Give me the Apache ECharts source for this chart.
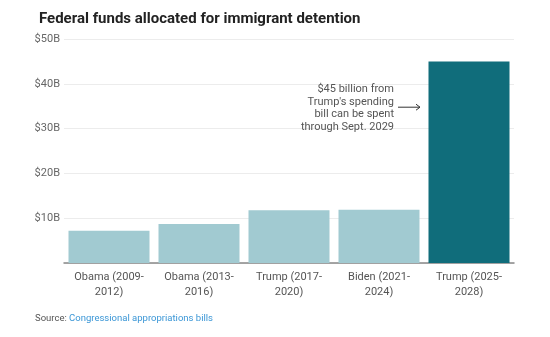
<!DOCTYPE html>
<html><head><meta charset="utf-8">
<script src="https://cdn.jsdelivr.net/npm/echarts@6/dist/echarts.min.js"></script>
<style>html,body{margin:0;padding:0;background:#fff}#c{width:550px;height:337px}</style>
</head><body><div id="c"></div>
<script>
const categories = ['Obama (2009-\n2012)', 'Obama (2013-\n2016)', 'Trump (2017-\n2020)', 'Biden (2021-\n2024)', 'Trump (2025-\n2028)'];
const values = [7.2, 8.7, 11.8, 11.9, 45];
const barColors = ['#a1cad1', '#a1cad1', '#a1cad1', '#a1cad1', '#106d7b'];
const yTicks = [0, 10, 20, 30, 40, 50];
const annotationLines = ['$45 billion from', "Trump's spending", 'bill can be spent', 'through Sept. 2029'];

const chart = echarts.init(document.getElementById('c'));
const font = 'Roboto, "Noto Sans", sans-serif';
chart.setOption({
  animation: false,
  textStyle: { fontFamily: font },
  grid: { left: 64, right: 36, top: 39, bottom: 74 },
  title: {
    text: 'Federal funds allocated for immigrant detention',
    left: 34, top: 7,
    textStyle: { fontSize: 15, fontWeight: 'bold', color: '#222', fontFamily: font }
  },
  xAxis: {
    type: 'category', data: categories,
    axisLine: { lineStyle: { color: '#888', width: 1.5 } },
    axisTick: { show: false },
    axisLabel: { color: '#555', fontSize: 11, lineHeight: 15, margin: 7, interval: 0 }
  },
  yAxis: {
    type: 'value', min: yTicks[0], max: yTicks[yTicks.length - 1], interval: 10,
    axisLine: { show: false }, axisTick: { show: false },
    splitLine: { lineStyle: { color: '#ececec', width: 1 } },
    axisLabel: {
      color: '#666', fontSize: 11, margin: 4,
      formatter: v => v === 0 ? '' : '$' + v + 'B'
    }
  },
  series: [{
    type: 'bar',
    barCategoryGap: '10%',
    data: values.map((v, i) => ({ value: v, itemStyle: { color: barColors[i] } })),
    silent: true
  }]
});

// annotation anchored to data coordinates
const anchor = chart.convertToPixel({ xAxisIndex: 0, yAxisIndex: 0 }, [categories[3], 35]);
const barEdge = chart.convertToPixel({ xAxisIndex: 0, yAxisIndex: 0 }, [categories[4], 35]);
const textRight = anchor[0] + 15;
const ay = anchor[1] + 1;
chart.setOption({
  graphic: [
    {
      type: 'text', x: textRight, y: ay + 1, z: 10,
      style: {
        text: annotationLines.join('\n'), align: 'right', verticalAlign: 'middle',
        fill: '#555', font: '11px ' + font, lineHeight: 12.7
      }
    },
    {
      type: 'line', z: 10,
      shape: { x1: textRight + 4, y1: ay, x2: barEdge[0] - 49, y2: ay },
      style: { stroke: '#333', lineWidth: 1 }
    },
    {
      type: 'polyline', z: 10,
      shape: { points: [[barEdge[0] - 53, ay - 3], [barEdge[0] - 49, ay], [barEdge[0] - 53, ay + 3]] },
      style: { stroke: '#333', lineWidth: 1, fill: null }
    },
    {
      type: 'text', x: 35, y: 314, z: 10,
      style: {
        text: '{a|Source: }{b|Congressional appropriations bills}',
        rich: {
          a: { fill: '#555', font: '9.5px ' + font },
          b: { fill: '#3a96d6', font: '9.5px ' + font }
        }
      }
    }
  ]
});
</script></body></html>
